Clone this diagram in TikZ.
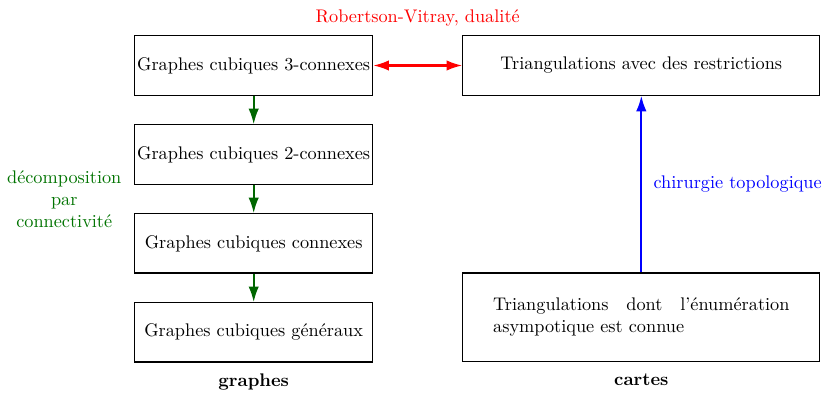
\documentclass[tikz,border=0pt]{standalone}
\usepackage{amsfonts, amsmath, amssymb}
\usepackage{tikz}
\usetikzlibrary{arrows.meta, calc, positioning}
\tikzstyle{classe}=[rectangle, draw=black, semithick, minimum width=4.58cm, minimum height=1.14cm, inner sep=0pt]
\tikzstyle{carte}=[rectangle, draw=black, semithick, minimum width=6.87cm, inner sep=0pt]
\tikzstyle{fleche}=[-{Latex[length=3mm, width=2mm]}, line width=1.1pt]
\tikzstyle{double}=[{Latex[length=3mm, width=2mm]}-{Latex[length=3mm, width=2mm]}, line width=1.1pt]

\begin{document}
\begin{tikzpicture}[node distance=0.55cm, auto]
      \useasboundingbox (0,0) rectangle (15.85,-7.6);

      \node[classe] (g3) at (4.88,-1.26) {Graphes cubiques 3-connexes};
      \node[classe] (g2) [below=of g3] {Graphes cubiques 2-connexes};
      \node[classe] (g1) [below=of g2] {Graphes cubiques connexes};
      \node[classe] (g0) [below=of g1] {Graphes cubiques g\'en\'eraux};

      \node[carte, minimum height=1.14cm] (tr) [right=1.71cm of g3] {Triangulations avec des restrictions};
      \node[carte, minimum height=1.71cm, text width=5.7cm, align=justify] (te) [below=3.40cm of tr]
        {Triangulations dont l'\'enum\'eration asympotique est connue};

      \draw[fleche, green!40!black] (g3) -- (g2);
      \draw[fleche, green!40!black] (g2) -- (g1);
      \draw[fleche, green!40!black] (g1) -- (g0);
      \coordinate (mid) at ($(g2.south west)!0.5!(g1.north west)$);
      \node[green!45!black, align=center, left=0.12cm of mid] (dec) {d\'ecomposition\\par\\connectivit\'e};

      \draw[double, red] (g3) -- (tr)
        node[midway, above=0.62cm] (rv) {Robertson-Vitray, dualit\'e};
      \draw[fleche, blue] (te) -- (tr)
        node[midway, right=0.1cm] (ch) {chirurgie topologique};

      \node (gr) [below=0.1cm of g0] {\textbf{graphes}};
      \node (ca) [below=0.1cm of te] {\textbf{cartes}};
    \end{tikzpicture}
\end{document}
